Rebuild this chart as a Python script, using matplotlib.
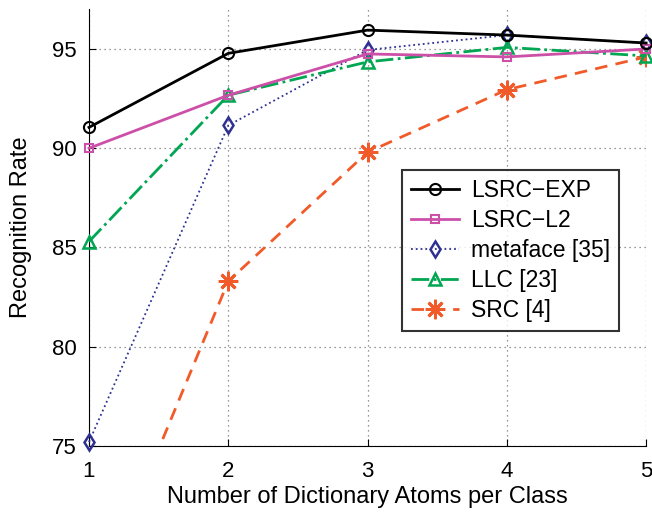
import matplotlib
matplotlib.use("Agg")
import matplotlib.pyplot as plt

plt.rcParams["font.family"] = ["Liberation Sans", "DejaVu Sans"]

atoms = [1, 2, 3, 4, 5]
lsrc_exp = [91.05, 94.78, 95.95, 95.7, 95.3]
lsrc_l2 = [90.0, 92.67, 94.75, 94.6, 95.0]
metaface = [75.2, 91.15, 94.95, 95.7, 95.3]
llc = [85.3, 92.67, 94.35, 95.08, 94.65]
src = [66.4, 83.3, 89.8, 92.95, 94.6]

fig = plt.figure(figsize=(6.52, 5.15), dpi=100)
ax = fig.add_axes([0.1365, 0.134, 0.8545, 0.848])

ax.plot(atoms, lsrc_exp, color="black", lw=2, marker="o", ms=8,
        mfc="none", mew=1.5, label="LSRC\u2212EXP", clip_on=False, zorder=5)
ax.plot(atoms, lsrc_l2, color="#CC4FA8", lw=2, marker="s", ms=6,
        mfc="none", mew=1.5, label="LSRC\u2212L2", clip_on=False, zorder=4)
ax.plot(atoms, metaface, color="#2E3192", lw=1.3, ls=":", marker="d", ms=8,
        mfc="none", mew=1.8, label="metaface [35]", clip_on=False, zorder=3)
ax.plot(atoms, llc, color="#00A651", lw=2, ls="-.", marker="^", ms=8,
        mfc="none", mew=1.8, label="LLC [23]", clip_on=False, zorder=3)
ax.plot(atoms, src, color="#F15A29", lw=2, ls=(0, (4.5, 3)), marker=(8, 2, 0), ms=14,
        mew=2, label="SRC [4]", clip_on=True, zorder=2)

ax.set_xlim(1, 5)
ax.set_ylim(75, 97)
ax.set_xticks(atoms)
ax.set_yticks([75, 80, 85, 90, 95])
ax.grid(True, ls=(0, (1, 3)), color="#777777", lw=0.9)
ax.spines["top"].set_visible(False)
ax.spines["right"].set_visible(False)
ax.tick_params(direction="in", labelsize=16, length=5)
ax.tick_params(axis="x", pad=11)
ax.tick_params(axis="y", pad=9)

ax.set_xlabel("Number of Dictionary Atoms per Class", fontsize=17, labelpad=3)
ax.set_ylabel("Recognition Rate", fontsize=17, labelpad=14)

leg = ax.legend(loc="upper left", bbox_to_anchor=(0.562, 0.632), fontsize=16.5,
                frameon=True, fancybox=False, edgecolor="black",
                handlelength=2.1, handletextpad=0.5, borderpad=0.4,
                labelspacing=0.3, borderaxespad=0)
leg.get_frame().set_linewidth(1.5)

fig.savefig("out.png", dpi=100)
